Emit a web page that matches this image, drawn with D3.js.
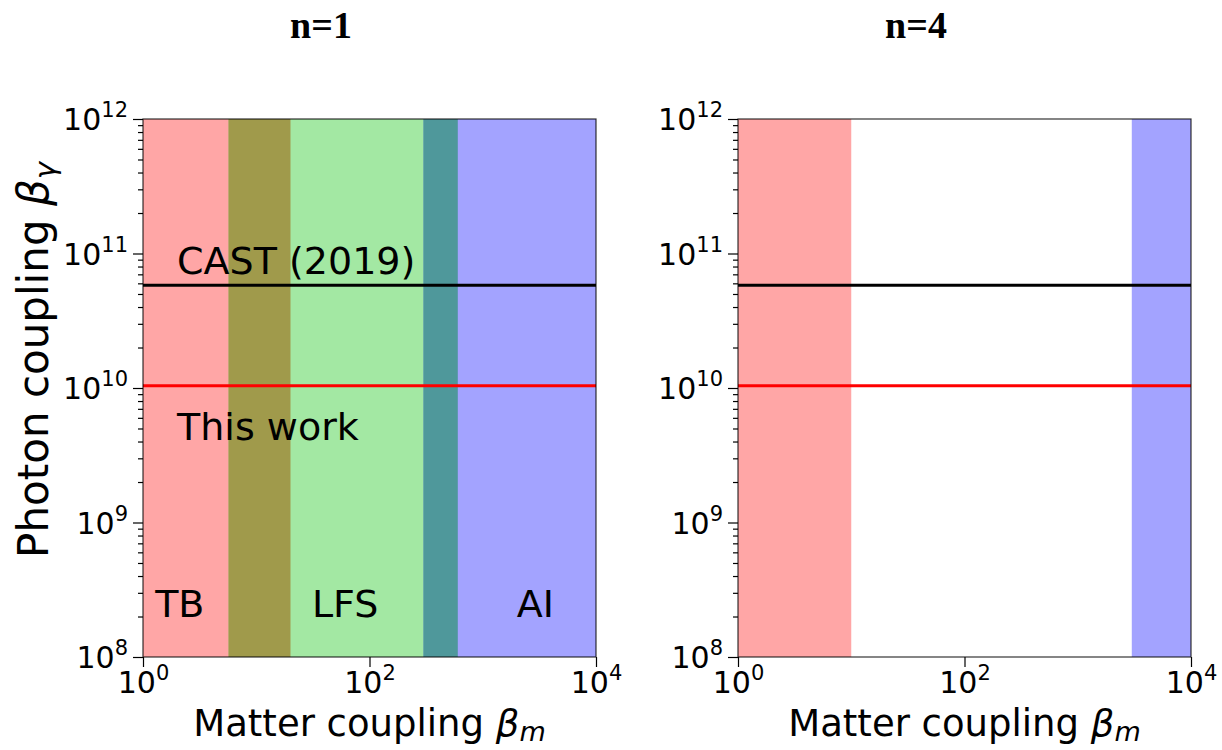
<!DOCTYPE html>
<html>
<head>
<meta charset="utf-8">
<script src="https://cdn.jsdelivr.net/npm/d3@7"></script>
<style>
  body { margin: 0; background: #fff; }
  svg text { font-family: "DejaVu Sans", sans-serif; fill: #000; }
</style>
</head>
<body>
<div id="chart"></div>
<script>
// values
const panelTitles = ["n=1", "n=4"];
const methodNames = ["TB", "LFS", "AI"];
const methodColors = ["red", "limegreen", "blue"];
const methodAlpha = [0.35, 0.45, 0.36];
const rangesN1 = [[1, 20], [5.7, 600], [300, 1e4]];
const rangesN4 = [[1, 10], null, [3000, 1e4]];
const overlapColors = { "TB-LFS": "#a09a4b", "LFS-AI": "#4f989b" };
const castLimit = 5.8e10;
const thisWork = 1.04e10;
const xTicks = [1, 1e2, 1e4];
const yTicks = [1e8, 1e9, 1e10, 1e11, 1e12];
const methodLabelPos = [[1.28, 2e8], [31, 2e8], [2000, 2e8]];
const lineLabels = [["CAST (2019)", 2.0, 7e10], ["This work", 2.0, 4.1e9]];

const W = 1222, H = 750;
const plotW = 453, plotH = 538, plotTop = 119;
const lefts = [143, 738];

const svg = d3.select("#chart").append("svg")
    .attr("width", W)
    .attr("height", H);

function pow10(d) {
    return Math.round(Math.log10(d));
}

function drawPanel(idx, ranges, withLabels) {
    const g = svg.append("g")
        .attr("transform", "translate(" + lefts[idx] + "," + plotTop + ")");

    const x = d3.scaleLog().domain([1, 1e4]).range([0, plotW]);
    const y = d3.scaleLog().domain([1e8, 1e12]).range([plotH, 0]);

    // method bands
    ranges.forEach(function (r, i) {
        if (!r) return;
        g.append("rect")
            .attr("x", x(r[0]))
            .attr("y", 0)
            .attr("width", x(r[1]) - x(r[0]))
            .attr("height", plotH)
            .attr("fill", methodColors[i])
            .attr("fill-opacity", methodAlpha[i]);
    });

    // overlapping regions between neighbouring methods
    for (let i = 0; i < ranges.length - 1; i++) {
        const a = ranges[i], b = ranges[i + 1];
        if (!a || !b) continue;
        const lo = Math.max(a[0], b[0]), hi = Math.min(a[1], b[1]);
        if (hi <= lo) continue;
        g.append("rect")
            .attr("x", x(lo))
            .attr("y", 0)
            .attr("width", x(hi) - x(lo))
            .attr("height", plotH)
            .attr("fill", overlapColors[methodNames[i] + "-" + methodNames[i + 1]]);
    }

    // limits
    g.append("line")
        .attr("x1", 0).attr("x2", plotW)
        .attr("y1", y(castLimit)).attr("y2", y(castLimit))
        .attr("stroke", "#000")
        .attr("stroke-width", 3);
    g.append("line")
        .attr("x1", 0).attr("x2", plotW)
        .attr("y1", y(thisWork)).attr("y2", y(thisWork))
        .attr("stroke", "#f00")
        .attr("stroke-width", 3);

    // frame
    g.append("rect")
        .attr("width", plotW)
        .attr("height", plotH)
        .attr("fill", "none")
        .attr("stroke", "#000")
        .attr("stroke-opacity", 0.8)
        .attr("stroke-width", 1.2);

    // axes
    const minor = [];
    for (let e = 8; e < 12; e++) {
        for (let m = 2; m < 10; m++) minor.push(m * Math.pow(10, e));
    }
    g.append("g")
        .call(d3.axisLeft(y).tickValues(minor).tickSize(5).tickFormat(""))
        .call(function (a) { a.select(".domain").remove(); });

    const yAxis = g.append("g")
        .call(d3.axisLeft(y).tickValues(yTicks).tickSize(10).tickPadding(5));
    yAxis.select(".domain").remove();

    const xAxis = g.append("g")
        .attr("transform", "translate(0," + plotH + ")")
        .call(d3.axisBottom(x).tickValues(xTicks).tickSize(10).tickPadding(2));
    xAxis.select(".domain").remove();

    g.selectAll(".tick line").attr("stroke", "#000").attr("stroke-width", 1.2);

    // tick labels as 10^k
    yAxis.selectAll(".tick text").each(function (d) {
        const t = d3.select(this).text("").attr("font-size", 30).attr("dy", "0.35em");
        t.append("tspan").text("10");
        t.append("tspan").text(pow10(d)).attr("font-size", 21).attr("dy", -13);
    });
    xAxis.selectAll(".tick text").each(function (d) {
        const t = d3.select(this).text("").attr("font-size", 30).attr("dy", "0.8em");
        t.append("tspan").text("10");
        t.append("tspan").text(pow10(d)).attr("font-size", 21).attr("dy", -13);
    });

    // axis titles
    const xl = g.append("text")
        .attr("x", plotW / 2)
        .attr("y", 617)
        .attr("text-anchor", "middle")
        .attr("font-size", 37)
        .text("Matter coupling ");
    xl.append("tspan").attr("font-style", "italic").text("β");
    xl.append("tspan").attr("font-style", "italic").attr("font-size", 27).attr("dy", 5).text("m");

    if (idx === 0) {
        const yl = svg.append("text")
            .attr("transform", "translate(48,360) rotate(-90)")
            .attr("text-anchor", "middle")
            .attr("font-size", 42)
            .text("Photon coupling ");
        yl.append("tspan").attr("font-style", "italic").text("β");
        yl.append("tspan").attr("font-style", "italic").attr("font-size", 29).attr("dy", 7).text("γ");
    }

    // panel title
    svg.append("text")
        .attr("x", lefts[idx] + 178)
        .attr("y", 38)
        .attr("text-anchor", "middle")
        .style("font-family", "'Liberation Serif', serif")
        .attr("font-size", 38)
        .attr("font-weight", "bold")
        .text(panelTitles[idx]);

    if (withLabels) {
        methodNames.forEach(function (name, i) {
            g.append("text")
                .attr("x", x(methodLabelPos[i][0]))
                .attr("y", y(methodLabelPos[i][1]))
                .attr("font-size", 38)
                .text(name);
        });
        lineLabels.forEach(function (l) {
            g.append("text")
                .attr("x", x(l[1]))
                .attr("y", y(l[2]))
                .attr("font-size", 38)
                .text(l[0]);
        });
    }
}

drawPanel(0, rangesN1, true);
drawPanel(1, rangesN4, false);
</script>
</body>
</html>
